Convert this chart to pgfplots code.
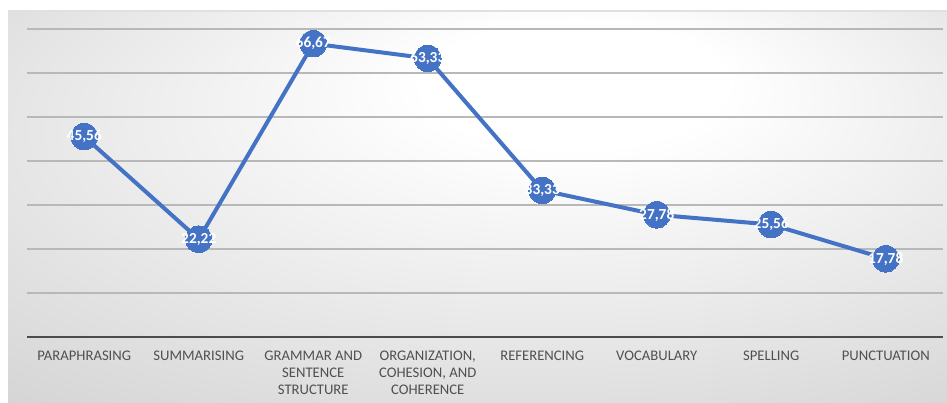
\documentclass[border=0pt]{standalone}
\usepackage{pgfplots}
\pgfplotsset{compat=1.18}
\usepackage{fontspec}
\setmainfont{Carlito}
\definecolor{lineblue}{HTML}{4472C4}
\definecolor{labgray}{HTML}{505050}
\pgfdeclareradialshading{bgshade}{\pgfpoint{6bp}{18bp}}{color(0bp)=(white); color(8bp)=(white); color(50bp)=(black!21); color(60bp)=(black!23)}
\begin{document}
\begin{tikzpicture}[x=0.75pt,y=0.75pt]
\useasboundingbox (0,0) rectangle (947,403);
\fill[white] (0,0) rectangle (947,403);
\shade[shading=bgshade] (8,0) rectangle (947,392);
\draw[black!12, line width=0.8pt] (8,392) -- (947,392);
\begin{axis}[
  at={(20.25pt,49.5pt)}, anchor=south west,
  scale only axis, width=687pt, height=244.2pt,
  xmin=-0.5, xmax=7.5, ymin=0, ymax=74,
  clip=false,
  axis line style={draw=none},
  xtick={0,...,7},
  xticklabels={PARAPHRASING, SUMMARISING, {GRAMMAR AND\\SENTENCE\\STRUCTURE}, {ORGANIZATION,\\COHESION, AND\\COHERENCE}, REFERENCING, VOCABULARY, SPELLING, PUNCTUATION},
  xticklabel style={align=center, font=\fontsize{11}{12.75}\selectfont, text=labgray, anchor=north, yshift=-7pt},
  ytick={10,20,...,70}, yticklabels={},
  ymajorgrids, grid style={draw=black!28, line width=0.9pt},
  extra y ticks={0}, extra y tick labels={},
  extra y tick style={grid style={draw=black!70, line width=2.2pt}},
  major tick length=0pt,
  nodes near coords={\pgfmathprintnumber[assume math mode=true,use comma,fixed,fixed zerofill,precision=2]{\pgfplotspointmeta}},
  nodes near coords style={anchor=center, text=white, font=\fontsize{11.5}{12}\bfseries},
]
\addplot[lineblue, line width=3pt, mark=*, mark size=10pt, mark options={fill=lineblue, draw=lineblue, line width=0pt}]
coordinates {(0,45.56) (1,22.22) (2,66.67) (3,63.33) (4,33.33) (5,27.78) (6,25.56) (7,17.78)};
\end{axis}
\end{tikzpicture}
\end{document}
